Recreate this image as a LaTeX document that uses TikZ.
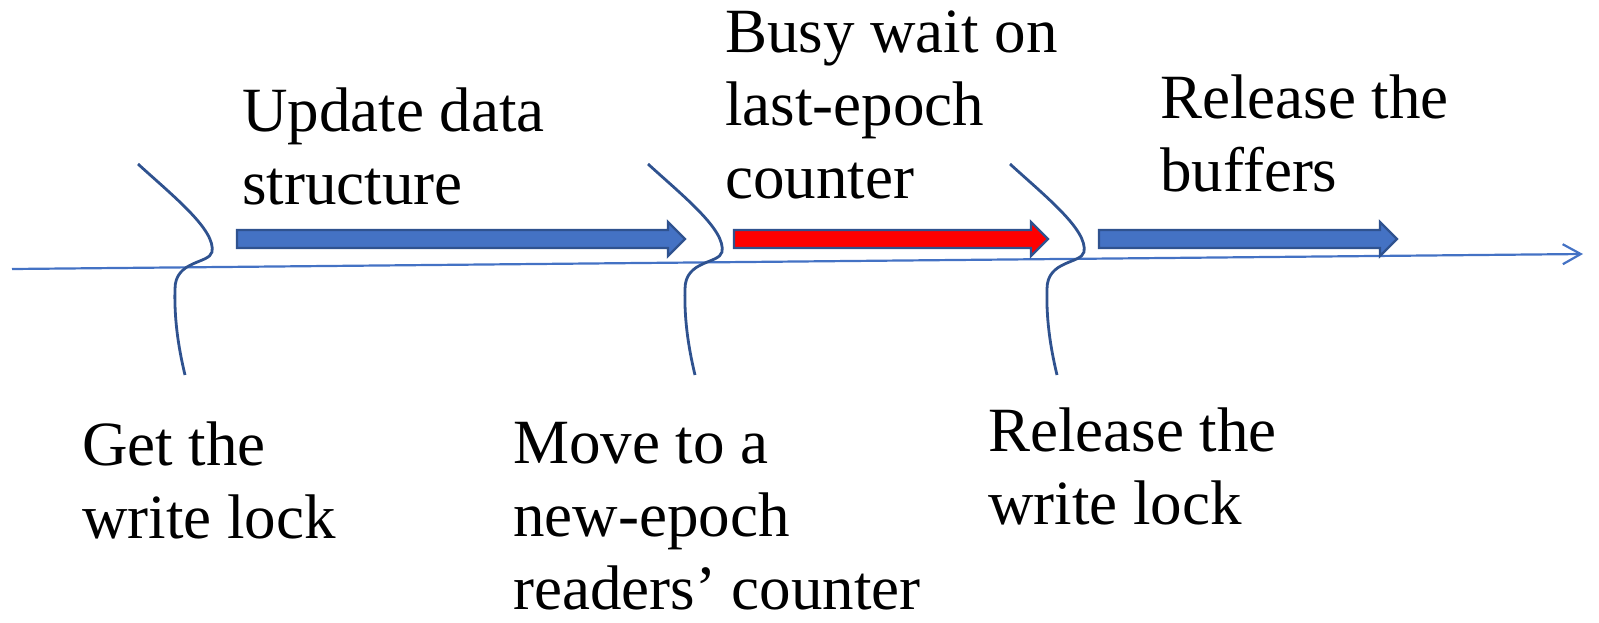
\documentclass[tikz,border=0pt]{standalone}
\usepackage{fontspec}
\setmainfont{Liberation Serif}
\usetikzlibrary{arrows.meta,positioning}
\definecolor{OfficeBlue}{RGB}{68,114,196}
\definecolor{EdgeBlue}{RGB}{47,82,143}
\tikzset{
  lbl/.style={font=\fontsize{63}{73}\selectfont,anchor=base west,inner sep=0pt,align=left},
  blk/.style={draw=EdgeBlue,line width=2.4pt,line join=miter}
}

\begin{document}
\begin{tikzpicture}[x=1pt,y=-1pt]
      \useasboundingbox (0,0) rectangle (1599,622);
      \coordinate (t0) at (12,269);
      \coordinate (t1) at (1583,254);
      \draw[OfficeBlue,line width=2.2pt,-{Straight Barb[length=18pt,width=20pt]}] (t0)--(t1);
      \foreach \x in {138,648,1010}
        \draw[EdgeBlue,line width=2.8pt,shift={(\x,164)}]
          (0,0) .. controls (35,32) and (78,66) .. (74,88)
          .. controls (71,100) and (37,96) .. (37,125)
          .. controls (36,160) and (42,190) .. (47,211);
      \foreach \a/\b/\c in {237/685/OfficeBlue,734/1048/red,1099/1397/OfficeBlue}
        \filldraw[blk,fill=\c] (\a,230)--(\b-17,230)--(\b-17,222)--(\b,239)
          --(\b-17,256)--(\b-17,248)--(\a,248)--cycle;
      \node[lbl] (get) at (82,538) {Get the\\write lock};
      \node[lbl] (update) at (242,204) {Update data\\structure};
      \node[lbl] (move) at (513,609) {Move to a\\new-epoch\\readers’ counter};
      \node[lbl] (busy) at (725,198) {Busy wait on\\last-epoch\\counter};
      \node[lbl] (relw) at (988,524) {Release the\\write lock};
      \node[lbl] (relb) at (1160,191) {Release the\\buffers};
    \end{tikzpicture}
\end{document}
